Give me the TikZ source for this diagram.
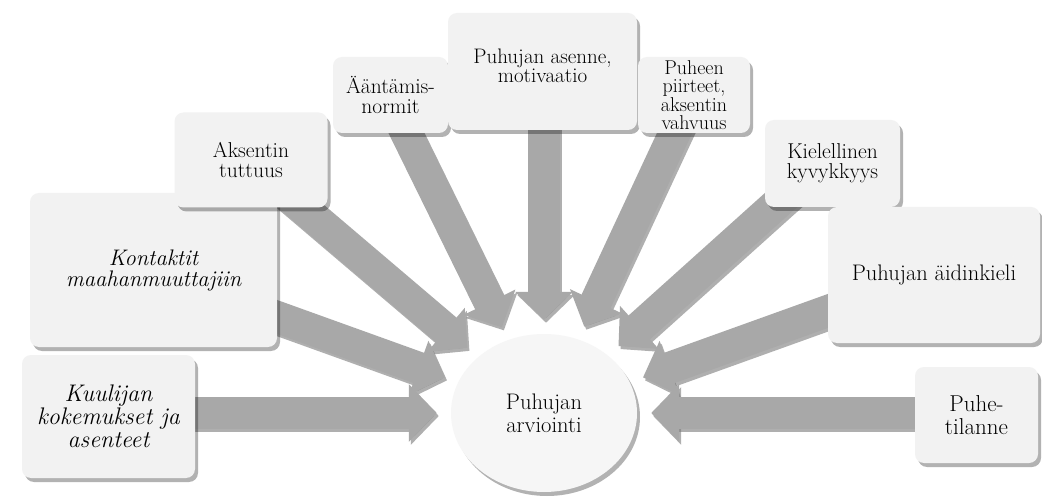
\documentclass[tikz,border=0pt]{standalone}
\usetikzlibrary{arrows.meta,shapes.geometric,shadows,backgrounds}
\definecolor{boxfill}{HTML}{F2F2F2}
\definecolor{arrowgray}{HTML}{A8A8A8}
\definecolor{arrowdark}{HTML}{7A7A7A}
\definecolor{circfill}{HTML}{F6F6F6}
\tikzset{
  box/.style={rectangle, rounded corners=9pt, fill=boxfill, draw=none, align=center,
    inner sep=2pt, font=\fontsize{21.5}{20}\selectfont,
    drop shadow={shadow xshift=3pt, shadow yshift=-4pt, fill=black, opacity=0.3}},
  bigarrow/.style={line width=32pt, draw=arrowgray, line cap=butt,
    -{Triangle[length=28pt,width=56pt]}, shorten >=14pt},
  arrowshadow/.style={bigarrow, draw=arrowdark, opacity=0.6,
    transform canvas={shift={(2pt,-3pt)}}},
  hub/.style={ellipse, fill=circfill, draw=none, align=center, inner sep=0pt,
    minimum width=186pt, minimum height=158pt, font=\fontsize{22.5}{23}\selectfont,
    drop shadow={shadow xshift=3pt, shadow yshift=-4pt, fill=black, opacity=0.3}}
}
\begin{document}
\begin{tikzpicture}[x=1pt,y=-1pt]
\useasboundingbox (0,0) rectangle (1042,497);

% boxes
\node[box, minimum width=173pt, minimum height=123pt, font=\fontsize{24}{23}\selectfont\itshape] (kuul) at (108.5,416.5)
  {Kuulijan\\kokemukset ja\\asenteet};
\node[box, minimum width=247pt, minimum height=154pt, font=\fontsize{22.5}{21}\selectfont\itshape] (kon) at (153.5,270)
  {Kontaktit\\maahanmuuttajiin};
\node[box, minimum width=153pt, minimum height=95pt] (aks) at (251,160)
  {Aksentin\\tuttuus};
\node[box, minimum width=115pt, minimum height=76pt] (aan) at (390.5,95)
  {Ääntämis-\\normit};
\node[box, minimum width=189pt, minimum height=117pt, font=\fontsize{21}{19}\selectfont] (ase) at (542.5,71.5)
  {Puhujan asenne,\\motivaatio\\[-8pt]\mbox{}};
\node[box, minimum width=112pt, minimum height=76pt, font=\fontsize{20}{18.5}\selectfont] (puh) at (694,95)
  {Puheen\\piirteet,\\aksentin\\vahvuus};
\node[box, minimum width=135pt, minimum height=87pt] (kiel) at (832.5,163.5)
  {Kielellinen\\kyvykkyys};
\node[box, minimum width=212pt, minimum height=136pt, font=\fontsize{22.5}{20}\selectfont] (aid) at (934,275)
  {Puhujan äidinkieli};
\node[box, minimum width=123pt, minimum height=96pt, font=\fontsize{23}{23}\selectfont] (til) at (976.5,415)
  {Puhe-\\tilanne};

% hub
\node[hub] (circ) at (544,413) {Puhujan\\arviointi};

% arrow start points (hidden behind the boxes)
\coordinate (s-kuul) at (150,413);
\coordinate (s-kon) at (230,300);
\coordinate (s-aks) at (270,180);
\coordinate (s-aan) at (390,100);
\coordinate (s-ase) at (544,80);
\coordinate (s-puh) at (690,100);
\coordinate (s-kiel) at (820,165);
\coordinate (s-aid) at (900,285);
\coordinate (s-til) at (975,413);

\begin{scope}[on background layer]
  \fill[white] (0,0) rectangle (1042,497);
  \foreach \s in {kuul,kon,aks,aan,ase,puh,kiel,aid,til}{
    \draw[arrowshadow] (s-\s) -- (circ);
  }
  \foreach \s in {kuul,kon,aks,aan,ase,puh,kiel,aid,til}{
    \draw[bigarrow] (s-\s) -- (circ);
  }
\end{scope}
\end{tikzpicture}
\end{document}
